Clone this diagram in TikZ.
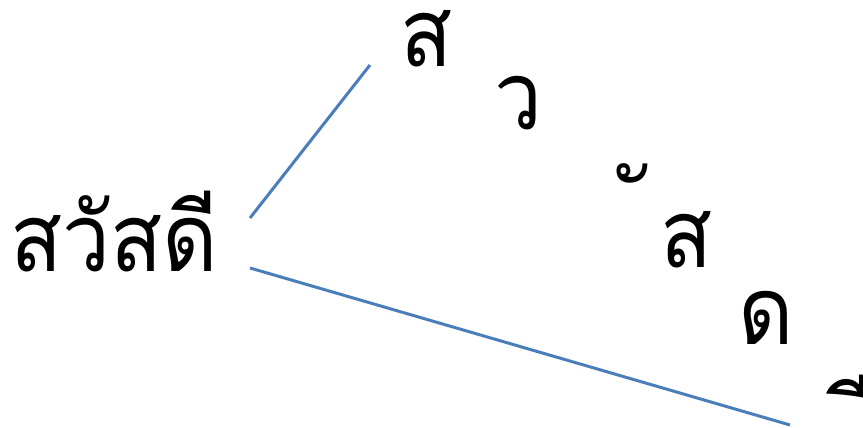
\documentclass[tikz,border=0pt]{standalone}
\usepackage{fontspec}
\newfontfamily\thaifont[Script=Thai,FakeStretch=0.9]{Loma}
\definecolor{lineblue}{HTML}{4A7EBB}
\tikzset{
  thai/.style={font=\thaifont\fontsize{27}{32}\selectfont, inner sep=0pt, anchor=base west, text=black},
  conn/.style={draw=lineblue, line width=0.85pt}
}
\begin{document}
\begin{tikzpicture}[x=0.01cm,y=-0.01cm]
\useasboundingbox (0,0) rectangle (863,428);
\node[thai] (word) at (10,272) {สวัสดี};
\node[thai] (c1) at (400,67) {ส};
\node[thai] (c2) at (494,130) {ว};
\node[thai] (c3) at (646,240) {ั};
\node[thai] (c4) at (660,268) {ส};
\node[thai] (c5) at (738,345) {ด};
\node[thai] (c6) at (871,456) {ี};
\coordinate (a1) at (250,218);
\coordinate (b1) at (370,65);
\coordinate (a2) at (250,268);
\coordinate (b2) at (790,425);
\draw[conn] (a1) -- (b1);
\draw[conn] (a2) -- (b2);
\end{tikzpicture}
\end{document}
